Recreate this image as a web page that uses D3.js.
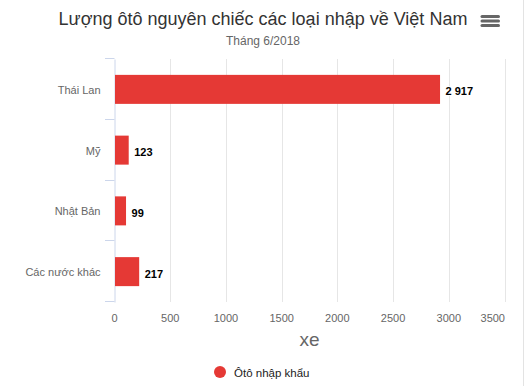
<!DOCTYPE html>
<html><head><meta charset="utf-8">
<script src="https://cdn.jsdelivr.net/npm/d3@7"></script>
<style>html,body{margin:0;padding:0;background:#fff;}svg{display:block;font-family:"Liberation Sans",Arial,sans-serif;}</style>
</head><body>
<script>
const categories = ["Thái Lan", "Mỹ", "Nhật Bản", "Các nước khác"];
const values = [2917, 123, 99, 217];
const valueLabels = ["2 917", "123", "99", "217"];
const xTicks = [0, 500, 1000, 1500, 2000, 2500, 3000, 3500];
const seriesName = "Ôtô nhập khẩu";
const title = "Lượng ôtô nguyên chiếc các loại nhập về Việt Nam";
const subtitle = "Tháng 6/2018";
const xTitle = "xe";

const W = 526, H = 386;
const m = {left: 114.5, right: 504.5, top: 59, bottom: 302};
const svg = d3.select("body").append("svg").attr("width", W).attr("height", H);

// page edge line
svg.append("line").attr("x1", 523.5).attr("x2", 523.5).attr("y1", 0).attr("y2", H)
  .attr("stroke", "#e3e3e3").attr("stroke-width", 1);

const x = d3.scaleLinear().domain([0, 3500]).range([m.left, m.right]);
const y = d3.scaleBand().domain(categories).range([m.top, m.bottom]).paddingInner(0).paddingOuter(0);

// title
svg.append("text").attr("x", 263).attr("y", 25).attr("text-anchor", "middle")
  .attr("font-size", 18).attr("fill", "#333").text(title);
svg.append("text").attr("x", 263).attr("y", 45).attr("text-anchor", "middle")
  .attr("font-size", 12).attr("fill", "#666").text(subtitle);

// menu icon
[16.5, 21, 25.5].forEach(yy => {
  svg.append("line").attr("x1", 482).attr("x2", 498.5).attr("y1", yy).attr("y2", yy)
    .attr("stroke", "#666").attr("stroke-width", 3).attr("stroke-linecap", "round");
});

// gridlines
svg.append("g").selectAll("line").data(xTicks.filter(d => d > 0)).join("line")
  .attr("x1", d => Math.round(x(d)) + 0.5).attr("x2", d => Math.round(x(d)) + 0.5)
  .attr("y1", m.top).attr("y2", m.bottom).attr("stroke", "#e6e6e6").attr("stroke-width", 1);

// x labels
svg.append("g").selectAll("text").data(xTicks).join("text")
  .attr("x", (d, i) => i === xTicks.length - 1 ? x(d) + 0.5 : x(d))
  .attr("y", 322)
  .attr("text-anchor", (d, i) => i === xTicks.length - 1 ? "end" : "middle")
  .attr("font-size", 11).attr("fill", "#666").text(d => d);

svg.append("text").attr("x", (m.left + m.right) / 2).attr("y", 346).attr("text-anchor", "middle")
  .attr("font-size", 19).attr("fill", "#666").text(xTitle);

// y axis
const yAxis = d3.axisLeft(y).tickSize(0).tickPadding(14);
const gy = svg.append("g").attr("transform", `translate(${m.left},1)`).call(yAxis);
gy.select(".domain").attr("stroke", "#ccd6eb").attr("transform", "translate(0,-1)");
gy.selectAll(".tick text").attr("font-size", 11).attr("fill", "#666")
  .attr("font-family", "Liberation Sans, Arial, sans-serif");
// category boundary ticks
const bounds = categories.map(c => y(c)).concat([m.bottom]);
svg.append("g").selectAll("line").data(bounds).join("line")
  .attr("x1", 105).attr("x2", m.left).attr("y1", d => Math.round(d) - 0.5).attr("y2", d => Math.round(d) - 0.5)
  .attr("stroke", "#ccd6eb").attr("stroke-width", 1);

// bars
const barH = 29;
svg.append("g").selectAll("rect").data(values).join("rect")
  .attr("x", m.left + 0.5).attr("y", (d, i) => y(categories[i]) + y.bandwidth() / 2 - barH / 2)
  .attr("width", d => x(d) - x(0)).attr("height", barH).attr("fill", "#e53935");

// value labels
svg.append("g").selectAll("text").data(values).join("text")
  .attr("x", d => x(d) + 6).attr("y", (d, i) => y(categories[i]) + y.bandwidth() / 2 + 6)
  .attr("font-size", 11).attr("font-weight", "bold").attr("fill", "#000")
  .attr("stroke", "#fff").attr("stroke-width", 2).attr("paint-order", "stroke")
  .text((d, i) => valueLabels[i]);

// legend
svg.append("circle").attr("cx", 220).attr("cy", 372).attr("r", 6).attr("fill", "#e53935");
svg.append("text").attr("x", 234).attr("y", 377).attr("font-size", 11.5)
  .attr("fill", "#222").text(seriesName);
</script>
</body></html>
